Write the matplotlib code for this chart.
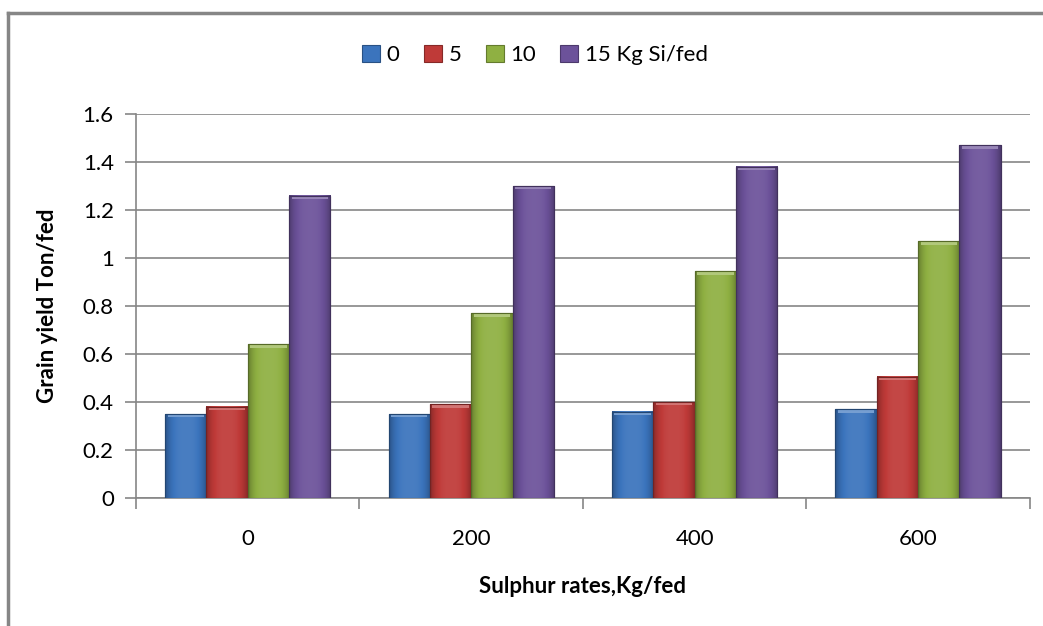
import numpy as np
import matplotlib.pyplot as plt
from matplotlib.lines import Line2D
from matplotlib.colors import to_rgb

sulphur = ['0', '200', '400', '600']
si_labels = ['0', '5', '10', '15 Kg Si/fed']
si_0 = [0.35, 0.35, 0.36, 0.37]
si_5 = [0.38, 0.39, 0.40, 0.505]
si_10 = [0.64, 0.77, 0.945, 1.07]
si_15 = [1.26, 1.30, 1.38, 1.47]
colors = ['#3b74bd', '#bf3a38', '#8fb042', '#6c529a']

plt.rcParams['font.family'] = ['Lato', 'DejaVu Sans']

fig = plt.figure(figsize=(10.43, 6.26), dpi=100)
ax = fig.add_axes([0.1304, 0.2045, 0.857, 0.6134])

x = np.arange(len(sulphur))
w = 0.185
series = [si_0, si_5, si_10, si_15]


def shade(c, f):
    r = np.array(to_rgb(c))
    if f >= 0:
        return tuple(r + (1 - r) * f)
    return tuple(r * (1 + f))


for i, (vals, col) in enumerate(zip(series, colors)):
    bars = ax.bar(x + (i - 1.5) * w, vals, w, color=col, edgecolor=shade(col, -0.3),
                  linewidth=0.8, label=si_labels[i], zorder=3)
    # fake the bevelled Excel look with a horizontal gradient and a light top
    for b in bars:
        x0, h, bw = b.get_x(), b.get_height(), b.get_width()
        t = np.linspace(-1, 1, 60)
        prof = 0.07 - 0.35 * np.abs(t) ** 3
        img = np.array([[shade(col, f) for f in prof]])
        ax.imshow(img, extent=(x0, x0 + bw, 0, h), aspect='auto', zorder=3.5,
                  interpolation='bilinear')
        ax.fill_between([x0 + bw * 0.06, x0 + bw * 0.94], h - 0.014, h - 0.003,
                        color=shade(col, 0.3), zorder=4, linewidth=0)
        ax.add_patch(plt.Rectangle((x0, 0), bw, h, fill=False,
                                   edgecolor=shade(col, -0.4), linewidth=0.8, zorder=4.5))

ax.set_xlim(-0.5, 3.5)
ax.set_ylim(0, 1.6)
ax.set_yticks(np.arange(0, 1.61, 0.2))
ax.set_yticklabels(['0', '0.2', '0.4', '0.6', '0.8', '1', '1.2', '1.4', '1.6'], fontsize=16)
ax.set_xticks(x)
ax.set_xticklabels(sulphur, fontsize=16)
ax.set_xticks(np.arange(-0.5, 3.6, 1), minor=True)
ax.tick_params(axis='x', which='major', length=0, pad=22)
ax.tick_params(axis='x', which='minor', length=8, color='#868686', width=1.2)
ax.tick_params(axis='y', length=8, color='#868686', width=1.2, pad=8)
ax.grid(axis='y', color='#868686', linewidth=1.2, zorder=0)
for s in ['top', 'right']:
    ax.spines[s].set_visible(False)
for s in ['left', 'bottom']:
    ax.spines[s].set_color('#868686')
    ax.spines[s].set_linewidth(1.2)

ax.set_ylabel('Grain yield Ton/fed', fontsize=16, fontweight='bold', labelpad=18)
ax.set_xlabel('Sulphur rates,Kg/fed', fontsize=16, fontweight='bold', labelpad=20)

fig.legend(loc='center', bbox_to_anchor=(0.513, 0.912), ncol=4, frameon=False,
           fontsize=16, handlelength=0.8, handleheight=0.8, handletextpad=0.3,
           columnspacing=1.1)

fig.add_artist(Line2D([0.0077, 1.0], [1 - 13 / 626, 1 - 13 / 626], color='#868686', lw=2.5))
fig.add_artist(Line2D([0.0077, 0.0077], [1 - 13 / 626, 0.0], color='#868686', lw=2.5))

fig.savefig('out.png', dpi=100)
